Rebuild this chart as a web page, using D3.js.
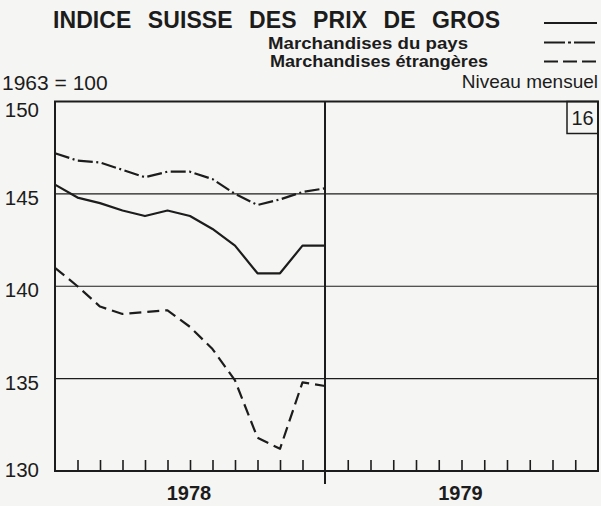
<!DOCTYPE html>
<html>
<head>
<meta charset="utf-8">
<script src="https://cdn.jsdelivr.net/npm/d3@7"></script>
<style>
  html, body { margin: 0; padding: 0; background: #f5f5f3; }
  svg { display: block; }
  text { font-family: "Liberation Sans", Arial, Helvetica, sans-serif; fill: #1c1c1c; }
</style>
</head>
<body>
<svg id="chart" width="601" height="506"></svg>
<script>
// Indice suisse des prix de gros, niveau mensuel (1963 = 100)
const monthIndex = [0, 1, 2, 3, 4, 5, 6, 7, 8, 9, 10, 11, 12];
const indiceTotal = [145.5, 144.8, 144.5, 144.1, 143.8, 144.1, 143.8, 143.1, 142.2, 140.7, 140.7, 142.2, 142.2];
const marchandisesPays = [147.2, 146.8, 146.7, 146.3, 145.9, 146.2, 146.2, 145.8, 145.0, 144.4, 144.7, 145.1, 145.3];
const marchandisesEtrangeres = [141.0, 140.0, 138.9, 138.5, 138.6, 138.7, 137.8, 136.6, 134.9, 131.8, 131.2, 134.8, 134.6];
const yTicks = [130, 135, 140, 145, 150];
const years = ["1978", "1979"];
const monthTicks = [1, 2, 3, 4, 5, 6, 7, 8, 9, 10, 11];

const svg = d3.select("#chart");
const ink = "#1c1c1c";

const plotLeft = 55, plotMid = 325, plotRight = 598, plotTop = 101.5, plotBottom = 471;

const y = d3.scaleLinear().domain([130, 150]).range([plotBottom, plotTop]);
const x78 = d3.scaleLinear().domain([0, 12]).range([plotLeft, plotMid]);
const x79 = d3.scaleLinear().domain([0, 12]).range([plotMid, plotRight]);
const panels = [x78, x79];

// Horizontal reference lines
svg.append("g").selectAll("line")
  .data(yTicks.filter(v => v > 130 && v < 150))
  .join("line")
  .attr("x1", plotLeft).attr("x2", plotRight)
  .attr("y1", d => y(d)).attr("y2", d => y(d))
  .attr("stroke", ink).attr("stroke-width", 1.2);

// Y axis labels
const yAxis = d3.axisLeft(y).tickValues(yTicks).tickSize(0).tickPadding(0);
const gy = svg.append("g").attr("transform", `translate(${plotLeft - 16},0)`).call(yAxis);
gy.select(".domain").remove();
gy.selectAll("text")
  .attr("font-size", 20.5)
  .attr("fill", ink)
  .attr("font-family", null)
  .attr("dy", null)
  .attr("dominant-baseline", "central")
  .attr("y", d => Math.max(plotTop + 7, Math.min(plotBottom - 2, y(d) + 3)) - y(d));

// Month ticks on both panels
panels.forEach(xs => {
  const ax = d3.axisTop(xs).tickValues(monthTicks).tickSize(11).tickFormat("");
  const g = svg.append("g").attr("transform", `translate(0,${plotBottom})`).call(ax);
  g.select(".domain").remove();
  g.selectAll("line").attr("stroke", ink).attr("stroke-width", 1.6);
});

// Frame and year separator
svg.append("rect")
  .attr("x", plotLeft).attr("y", plotTop)
  .attr("width", plotRight - plotLeft).attr("height", plotBottom - plotTop)
  .attr("fill", "none").attr("stroke", ink).attr("stroke-width", 2);
svg.append("line")
  .attr("x1", plotMid).attr("x2", plotMid).attr("y1", plotTop).attr("y2", 484)
  .attr("stroke", ink).attr("stroke-width", 2);

// Year labels
svg.append("g").selectAll("text")
  .data(years)
  .join("text")
  .attr("x", (d, i) => (panels[i](0) + panels[i](12)) / 2 - 1)
  .attr("y", 500)
  .attr("text-anchor", "middle")
  .attr("font-size", 20)
  .attr("font-weight", "bold")
  .text(d => d);

// Series lines
const series = [
  { values: indiceTotal, dash: null },
  { values: marchandisesPays, dash: "15,3.5,2,3.5" },
  { values: marchandisesEtrangeres, dash: "12,6" }
];
const line = d3.line().x((d, i) => x78(monthIndex[i])).y(d => y(d));
svg.append("g").selectAll("path")
  .data(series)
  .join("path")
  .attr("d", d => line(d.values))
  .attr("fill", "none")
  .attr("stroke", ink)
  .attr("stroke-width", 2.2)
  .attr("stroke-linejoin", "round")
  .attr("stroke-dasharray", d => d.dash);

// Chart number box
svg.append("rect")
  .attr("x", 567).attr("y", plotTop).attr("width", plotRight - 567).attr("height", 32)
  .attr("fill", "none").attr("stroke", ink).attr("stroke-width", 1.5);
svg.append("text")
  .attr("x", 582.5).attr("y", 125).attr("text-anchor", "middle")
  .attr("font-size", 20).text("16");

// Titles and legend
svg.append("text")
  .attr("x", 53).attr("y", 28)
  .attr("font-size", 23).attr("font-weight", "bold")
  .attr("word-spacing", 10)
  .attr("textLength", 447).attr("lengthAdjust", "spacing")
  .text("INDICE SUISSE DES PRIX DE GROS");
svg.append("text")
  .attr("x", 268).attr("y", 48.5)
  .attr("font-size", 17).attr("font-weight", "bold")
  .attr("textLength", 200).attr("lengthAdjust", "spacingAndGlyphs")
  .text("Marchandises du pays");
svg.append("text")
  .attr("x", 270).attr("y", 67)
  .attr("font-size", 17).attr("font-weight", "bold")
  .attr("textLength", 218).attr("lengthAdjust", "spacingAndGlyphs")
  .text("Marchandises étrangères");
svg.append("text")
  .attr("x", 2).attr("y", 90)
  .attr("font-size", 21)
  .text("1963 = 100");
svg.append("text")
  .attr("x", 598).attr("y", 88).attr("text-anchor", "end")
  .attr("font-size", 19)
  .text("Niveau mensuel");

const legendY = [23, 42.5, 61.5];
svg.append("g").selectAll("line")
  .data(series)
  .join("line")
  .attr("x1", 544).attr("x2", 597)
  .attr("y1", (d, i) => legendY[i]).attr("y2", (d, i) => legendY[i])
  .attr("stroke", ink).attr("stroke-width", 2.2)
  .attr("stroke-dasharray", (d, i) => i === 1 ? "21,3,3,3" : d.dash ? "14,5" : null);
</script>
</body>
</html>
